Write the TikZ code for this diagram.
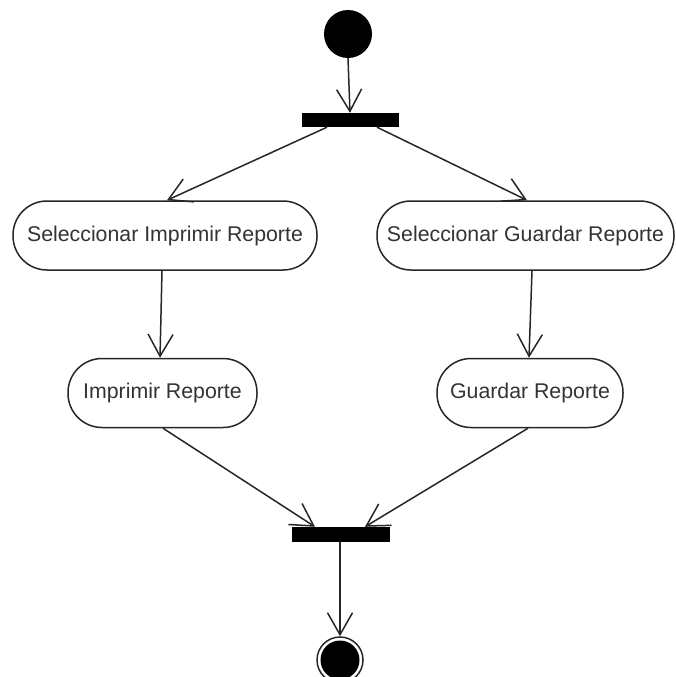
\documentclass[tikz,border=0pt]{standalone}
\usepackage{fontspec}
\setmainfont{Liberation Sans}
\usetikzlibrary{arrows.meta}
\definecolor{linegray}{HTML}{262626}
\definecolor{textgray}{HTML}{333333}
\begin{document}
\begin{tikzpicture}[x=1pt,y=-1pt,
  flow/.style={draw=linegray, line width=1.5pt,
    -{Straight Barb[length=22pt,width=25pt,line width=1.5pt]}},
  action/.style={draw=linegray, line width=1.5pt, fill=white,
    rectangle, rounded corners=34pt, minimum height=69pt,
    inner sep=0pt, text=textgray,
    font=\fontsize{21.3}{24}\selectfont},
  syncbar/.style={fill=black, draw=none, rectangle, inner sep=0pt,
    minimum height=14pt},
  startnode/.style={circle, fill=black, draw=none, inner sep=0pt,
    minimum size=48pt}]
  \useasboundingbox (0,0) rectangle (675,677);

  % initial state
  \node[startnode] (start) at (348,34) {};
  % fork bar
  \node[syncbar, minimum width=97pt] (fork) at (350.5,120) {};

  % actions
  \node[action, minimum width=304pt] (selimp) at (165,235.5)
    {Seleccionar Imprimir Reporte};
  \node[action, minimum width=297pt] (selgua) at (525.5,235.5)
    {Seleccionar Guardar Reporte};
  \node[action, minimum width=189pt] (imp) at (162.5,393)
    {Imprimir Reporte};
  \node[action, minimum width=186pt] (gua) at (530,393)
    {Guardar Reporte};

  % join bar
  \node[syncbar, minimum width=98pt, minimum height=15pt] (join) at (341,534.5) {};

  % final state (bull's eye)
  \node[circle, draw=linegray, line width=1.5pt, fill=white, inner sep=0pt,
    minimum size=46pt] (final) at (340,660) {};
  \node[circle, fill=black, inner sep=0pt, minimum size=39pt] (finaldot) at (340,660) {};

  % control flows
  \draw[flow] (start.south) -- ([xshift=-0.5pt]fork.north);
  \draw[flow] ([xshift=-23.5pt]fork.south) -- ([xshift=2pt]selimp.north);
  \draw[flow] ([xshift=26.5pt]fork.south) -- ([xshift=1.5pt]selgua.north);
  \draw[flow] ([xshift=-3pt]selimp.south) -- ([xshift=-2.5pt]imp.north);
  \draw[flow] ([xshift=6.5pt]selgua.south) -- ([xshift=-1pt]gua.north);
  \draw[flow] ([xshift=0.5pt]imp.south) -- ([xshift=-26pt]join.north);
  \draw[flow] ([xshift=-2pt]gua.south) -- ([xshift=24pt]join.north);
  \draw[flow] ([xshift=-1pt]join.south) -- (final.north);
\end{tikzpicture}
\end{document}
